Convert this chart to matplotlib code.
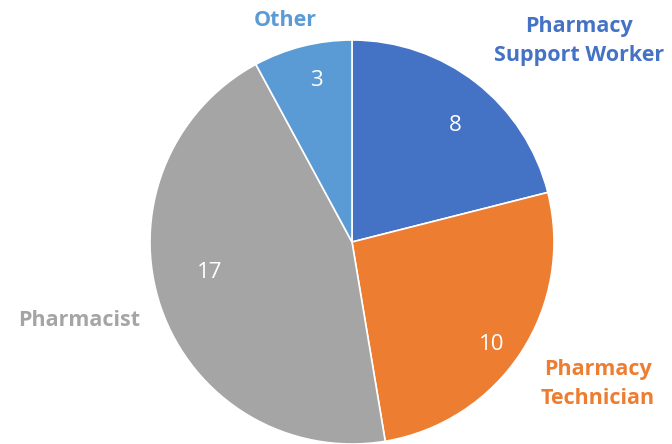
import matplotlib
matplotlib.use("Agg")
import matplotlib.pyplot as plt
import numpy as np

categories = ["Pharmacy\nSupport Worker", "Pharmacy\nTechnician", "Pharmacist", "Other"]
values = [8, 10, 17, 3]
colors = ["#4472C4", "#ED7D31", "#A5A5A5", "#5B9BD5"]

W, H = 672, 444
fig = plt.figure(figsize=(W / 100, H / 100), dpi=100)
ax = fig.add_axes([0, 0, 1, 1])

cx, cy, r = 352, H - 242, 202
wedges, _ = ax.pie(values, colors=colors, startangle=90, counterclock=False,
                   center=(cx, cy), radius=r, frame=True,
                   wedgeprops=dict(edgecolor="white", linewidth=1.2))
ax.set_xlim(0, W)
ax.set_ylim(0, H)
ax.set_aspect("equal")
ax.axis("off")

# value labels inside each wedge (radial fraction, angular nudge in degrees)
label_place = [(0.77, -3.5), (0.86, -3.1), (0.72, -7.0), (0.82, -1.7)]
for w, v, (f, da) in zip(wedges, values, label_place):
    ang = np.deg2rad((w.theta1 + w.theta2) / 2 + da)
    ax.text(cx + f * r * np.cos(ang), cy + f * r * np.sin(ang), str(v),
            color="white", fontsize=16, ha="center", va="center", family="Open Sans")

# category names outside the pie
name_pos = [(579, 41), (598, 384), (79, 320), (285, 20)]
for name, col, (x, y) in zip(categories, colors, name_pos):
    ax.text(x, H - y, name, color=col, fontsize=15.5, fontweight="bold",
            ha="center", va="center", family="Open Sans", linespacing=1.48)

fig.savefig("out.png", dpi=100)
